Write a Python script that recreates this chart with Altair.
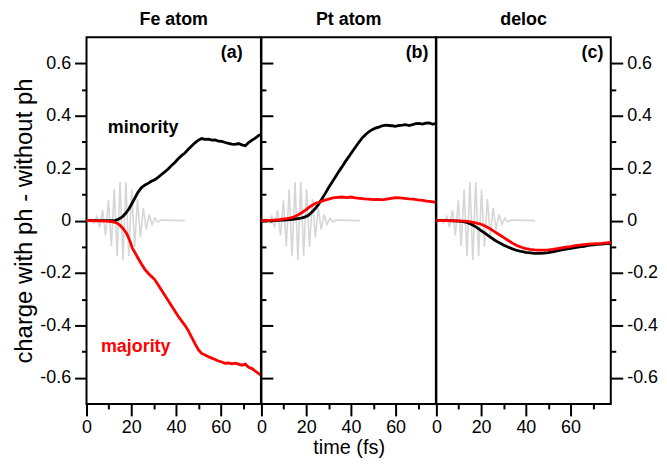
import altair as alt
import pandas as pd

FONT = "Liberation Sans"

# ---------------- data ----------------
pulse_t = [0.0, 2.0, 3.3, 4.6, 5.9, 7.2, 8.5, 9.8, 11.1, 12.4, 13.7, 15.0, 16.3, 17.6,
           18.9, 20.2, 21.5, 22.8, 24.1, 25.4, 26.7, 28.0, 29.3, 30.6, 31.9, 33.2, 44.0]
pulse_v = [0.0, 0.005, -0.009, 0.016, -0.026, 0.040, -0.057, 0.077, -0.098, 0.119, -0.136,
           0.147, -0.150, 0.146, -0.135, 0.119, -0.101, 0.082, -0.064, 0.048, -0.034, 0.023,
           -0.015, 0.009, -0.005, 0.002, 0.0]

fe_min_t = [0, 5, 10, 13, 14.5, 16, 17.5, 19, 20.5, 22, 23, 24.5, 26, 27.5, 29, 30.5, 32, 33.5,
            35, 36.5, 38, 39.5, 41, 42.5, 44, 45.5, 47, 48.5, 50, 51.5, 53, 54.5, 56, 57.5, 59,
            60.5, 62, 63.5, 65, 66.5, 68, 69.5, 71, 72.5, 74, 75.5, 77, 78]
fe_min_v = [0, 0, 0, 0.001, 0.006, 0.014, 0.028, 0.045, 0.068, 0.092, 0.108, 0.125, 0.135,
            0.142, 0.150, 0.156, 0.165, 0.176, 0.186, 0.197, 0.210, 0.222, 0.236, 0.248, 0.258,
            0.272, 0.285, 0.297, 0.307, 0.313, 0.310, 0.311, 0.307, 0.308, 0.303, 0.302, 0.298,
            0.295, 0.292, 0.291, 0.294, 0.289, 0.286, 0.298, 0.307, 0.315, 0.325, 0.328]

fe_maj_t = [0, 5, 9, 12, 13.5, 15, 16.5, 18, 19.5, 20.5, 21.5, 23, 24.5, 26, 27.5, 29, 30.5, 32,
            33.5, 35, 36.5, 38, 39.5, 41, 42.5, 44, 45.5, 47, 48.5, 50, 51.5, 53, 54.5, 56, 57.5,
            59, 60.5, 62, 63.5, 65, 66.5, 68, 69.5, 71, 72.5, 74, 75.5, 77, 78]
fe_maj_v = [0, -0.001, -0.002, -0.005, -0.009, -0.018, -0.032, -0.050, -0.080, -0.105, -0.120,
            -0.143, -0.165, -0.185, -0.200, -0.213, -0.225, -0.245, -0.265, -0.285, -0.305,
            -0.325, -0.345, -0.365, -0.383, -0.400, -0.420, -0.445, -0.470, -0.493, -0.507,
            -0.513, -0.520, -0.525, -0.530, -0.536, -0.540, -0.545, -0.543, -0.547, -0.544,
            -0.548, -0.552, -0.548, -0.560, -0.565, -0.575, -0.584, -0.590]

pt_min_t = [0, 5, 10, 14, 17, 19, 21, 22.5, 24, 25.5, 27, 28.5, 30, 31.5, 33, 34.5, 36, 37.5, 39,
            40.5, 42, 43.5, 45, 46.5, 48, 49.5, 51, 52.5, 54, 55.5, 57, 58.5, 60, 61.5, 63, 64.5,
            66, 67.5, 69, 70.5, 72, 73.5, 75, 76.5, 78]
pt_min_v = [0, 0, 0.002, 0.005, 0.008, 0.012, 0.020, 0.032, 0.045, 0.062, 0.082, 0.103, 0.125,
            0.145, 0.165, 0.186, 0.205, 0.225, 0.243, 0.262, 0.280, 0.298, 0.315, 0.328, 0.339,
            0.347, 0.353, 0.357, 0.362, 0.364, 0.363, 0.362, 0.360, 0.363, 0.364, 0.366, 0.363,
            0.366, 0.370, 0.371, 0.368, 0.372, 0.373, 0.368, 0.370]

pt_maj_t = [0, 4, 8, 11, 14, 16, 18, 20, 22, 24, 26, 28, 30, 32, 34, 36, 38, 40, 42, 44, 46, 48,
            50, 52, 54, 56, 58, 60, 62, 64, 66, 68, 70, 72, 74, 76, 78]
pt_maj_v = [0, 0.001, 0.004, 0.007, 0.012, 0.020, 0.030, 0.042, 0.055, 0.065, 0.071, 0.077,
            0.082, 0.087, 0.089, 0.090, 0.088, 0.090, 0.087, 0.085, 0.083, 0.082, 0.080, 0.081,
            0.079, 0.082, 0.085, 0.088, 0.087, 0.085, 0.083, 0.082, 0.079, 0.077, 0.074, 0.072,
            0.070]

de_min_t = [0, 5, 10, 12, 14, 16, 18, 20, 22, 24, 26, 28, 30, 32, 34, 36, 38, 40, 42, 44, 46, 48,
            50, 52, 54, 56, 58, 60, 62, 64, 66, 68, 70, 72, 74, 76, 78]
de_min_v = [0, 0, -0.002, -0.004, -0.008, -0.016, -0.026, -0.038, -0.050, -0.062, -0.074,
            -0.084, -0.093, -0.101, -0.108, -0.114, -0.118, -0.121, -0.123, -0.125, -0.125,
            -0.124, -0.122, -0.119, -0.116, -0.112, -0.109, -0.106, -0.103, -0.100, -0.098,
            -0.095, -0.093, -0.091, -0.090, -0.088, -0.087]

de_maj_t = [0, 5, 10, 14, 16, 18, 20, 22, 24, 26, 28, 30, 32, 34, 36, 38, 40, 42, 44, 46, 48, 50,
            52, 54, 56, 58, 60, 62, 64, 66, 68, 70, 72, 74, 76, 78]
de_maj_v = [0, 0, -0.001, -0.003, -0.006, -0.010, -0.014, -0.022, -0.031, -0.042, -0.053,
            -0.064, -0.075, -0.086, -0.095, -0.102, -0.107, -0.110, -0.112, -0.113, -0.113,
            -0.112, -0.110, -0.107, -0.104, -0.101, -0.099, -0.096, -0.094, -0.092, -0.090,
            -0.089, -0.088, -0.087, -0.085, -0.083]

panel_titles = ["Fe atom", "Pt atom", "deloc"]
panel_tags = ["(a)", "(b)", "(c)"]
tag_t = [69.8, 74.7, 74.7]
tag_v = 0.64
spin_text = ["minority", "majority"]
spin_t = [25.3, 22.0]
spin_v = [0.355, -0.483]

x_vals = [0, 10, 20, 30, 40, 50, 60, 70]
y_vals = [-0.6, -0.5, -0.4, -0.3, -0.2, -0.1, 0, 0.1, 0.2, 0.3, 0.4, 0.5, 0.6]
X_DOM = [0, 78]
Y_DOM = [-0.7, 0.7]

# ---------------- helpers ----------------
xs = alt.Scale(domain=X_DOM, nice=False, zero=False)
ys = alt.Scale(domain=Y_DOM, nice=False, zero=False)

x_tick = {"condition": {"test": "datum.value % 20 === 0", "value": 12}, "value": 5}
y_tick = {"condition": {"test": "abs(round(datum.value*10)) % 2 === 0", "value": 12}, "value": 5}
y_label_expr = ("abs(round(datum.value*10)) % 2 === 0 ? (datum.value === 0 ? '0' : "
                "(datum.value < 0 ? '-' : '') + format(abs(datum.value), '.1f')) : ''")

common_axis = dict(domain=False, grid=False, tickColor="black", tickWidth=2,
                   labelFont=FONT, labelFontSize=18, labelColor="black",
                   titleFont=FONT, titleFontWeight="normal", titleColor="black")


def x_axis(with_title):
    kw = dict(common_axis)
    kw.update(values=x_vals, tickSize=x_tick, labelFlush=False, labelPadding=3,
              labelExpr="datum.value % 20 === 0 ? datum.label : ''")
    if with_title:
        kw.update(titleFontSize=20, titlePadding=1)
    return alt.Axis(**kw)


def y_axis(orient, labels, title_on=False):
    kw = dict(common_axis)
    kw.update(values=y_vals, tickSize=y_tick, orient=orient, labelFlush=False,
              labels=labels, labelPadding=4)
    if labels:
        kw.update(labelExpr=y_label_expr)
    if title_on:
        kw.update(titleFontSize=24, titlePadding=3)
    return alt.Axis(**kw)


def df(t, v):
    return pd.DataFrame({"t": t, "v": v})


def enc_x(xax, xtitle):
    return alt.X("t:Q", scale=xs, axis=xax, title=xtitle)


def enc_y(yax, ytitle):
    return alt.Y("v:Q", scale=ys, axis=yax, title=ytitle)


def line(data, color, width, xax, xtitle, yax, ytitle):
    return alt.Chart(data).mark_line(color=color, strokeWidth=width).encode(
        x=enc_x(xax, xtitle), y=enc_y(yax, ytitle))


def text_layer(t, v, txt, color, align, xax, xtitle, yax, ytitle):
    d = pd.DataFrame({"t": [t], "v": [v], "txt": [txt]})
    return alt.Chart(d).mark_text(color=color, font=FONT, fontSize=18, fontWeight="bold",
                                  align=align, baseline="middle").encode(
        x=enc_x(xax, xtitle), y=enc_y(yax, ytitle), text="txt:N")


def title(s):
    return alt.TitleParams(s, font=FONT, fontSize=18, fontWeight="bold", color="black", offset=8)


W, H = 175.5, 369
GREY, BLACK, RED = "#d6d6d6", "black", "#ff0000"
LW = 2.8

# panel a : x axis shared across layers (same spec everywhere); y axes independent
XA = x_axis(False)
YL = y_axis("left", True, True)
YR = y_axis("right", False)
YT = "charge with ph - without ph"
pa = alt.layer(
    line(df(pulse_t, pulse_v), GREY, 1.6, XA, None, YL, YT),
    line(df(fe_min_t, fe_min_v), BLACK, LW, XA, None, YR, None),
    line(df(fe_maj_t, fe_maj_v), RED, LW, XA, None, None, None),
    text_layer(spin_t[0], spin_v[0], spin_text[0], BLACK, "center", XA, None, None, None),
    text_layer(spin_t[1], spin_v[1], spin_text[1], RED, "center", XA, None, None, None),
    text_layer(tag_t[0], tag_v, panel_tags[0], BLACK, "right", XA, None, None, None),
).resolve_axis(y="independent").properties(width=W, height=H, title=title(panel_titles[0]))

# panel b
XB = x_axis(True)
XT = "time (fs)"
pb = alt.layer(
    line(df(pulse_t, pulse_v), GREY, 1.6, XB, XT, None, None),
    line(df(pt_min_t, pt_min_v), BLACK, LW, XB, XT, None, None),
    line(df(pt_maj_t, pt_maj_v), RED, LW, XB, XT, None, None),
    text_layer(tag_t[1], tag_v, panel_tags[1], BLACK, "right", XB, XT, None, None),
).properties(width=W, height=H, title=title(panel_titles[1]))

# panel c
XC = x_axis(False)
YC = y_axis("right", True)
pc = alt.layer(
    line(df(pulse_t, pulse_v), GREY, 1.6, XC, None, YC, None),
    line(df(de_min_t, de_min_v), BLACK, LW, XC, None, YC, None),
    line(df(de_maj_t, de_maj_v), RED, LW, XC, None, YC, None),
    text_layer(tag_t[2], tag_v, panel_tags[2], BLACK, "right", XC, None, YC, None),
).properties(width=W, height=H, title=title(panel_titles[2]))

chart = alt.hconcat(pa, pb, pc, spacing=0, bounds="flush").configure_view(
    stroke="black", strokeWidth=2
).properties(padding={"left": 3, "top": 1, "right": 0, "bottom": 0})

chart.save("out.html", embed_options={"renderer": "svg", "actions": False})
